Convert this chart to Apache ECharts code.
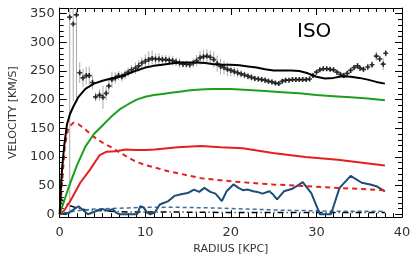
<!DOCTYPE html>
<html>
<head>
<meta charset="utf-8">
<script src="https://cdn.jsdelivr.net/npm/echarts@6/dist/echarts.min.js"></script>
<style>html,body{margin:0;padding:0;background:#fff}#c{width:415px;height:260px}</style>
</head>
<body>
<div id="c"></div>
<script>
// Observed rotation curve points: radius (kpc), velocity (km/s), error (km/s)
const obsR = [1.17,1.58,1.96,2.34,2.72,3.10,3.45,3.83,4.20,4.66,5.05,5.43,5.74,6.10,6.50,6.88,7.26,7.63,8.00,8.40,8.86,9.23,9.60,
  10.0,10.4,10.8,11.2,11.6,12.0,12.4,12.8,13.2,13.6,14.0,14.4,14.8,15.2,15.6,16.0,16.4,16.8,17.2,17.6,18.0,18.4,18.8,19.2,19.6,
  20.0,20.4,20.8,21.2,21.6,22.0,22.4,22.8,23.2,23.6,24.0,24.4,24.8,25.2,25.6,26.0,26.4,26.8,27.2,27.6,28.0,28.4,28.8,29.2,29.6,
  30.0,30.4,30.8,31.2,31.6,32.0,32.4,32.8,33.2,33.6,34.0,34.4,34.8,35.1,35.5,36.0,36.5,37.0,37.4,37.8,38.1];
const obsV = [344,332,348,247,238,242,242,230,205,208,204,211,224,235,238,242,240,244,248,252,255,259,264,
  267,270,272,271,271,270,270,269,268,266,264,262,262,261,264,268,273,275,276,274,270,263,258,256,253,
  251,249,247,245,243,241,239,237,236,235,234,232,231,229,228,232,234,234,235,235,235,235,235,236,242,
  248,252,254,254,253,252,248,244,242,246,251,256,259,255,253,257,261,276,271,262,281];
const obsErr = [345,135,150,18,16,15,16,12,8,10,20,12,12,14,10,8,8,8,8,8,10,10,10,
  12,14,14,10,10,8,8,8,8,8,8,6,6,6,8,10,12,12,12,12,14,14,14,12,12,
  10,8,8,6,6,6,6,5,5,5,5,5,5,4,4,4,4,4,4,4,4,4,4,4,4,
  4,4,4,4,4,4,4,5,5,5,5,5,5,5,5,6,6,8,6,10,6];

// Model curves [radius, velocity]
const totalCurve = [[0,0],[0.15,50],[0.3,85],[0.55,123],[0.85,157],[1.2,175],[1.6,188],[2.2,205],[3,219],[4,228],[5,233],[6,237],[7,240],[8,245],[9,251],[10,256],[11,259],[12,261],[13,263],[14,265],[15,265],[16,265],[17,264],[18,262],[19,261],[20,261],[21,260],[22,258],[23,256],[24,253],[25,251],[26,251],[27,251],[28,250],[29,246],[30,240],[31,237],[32,238],[33,241],[34,240],[35,238],[36,235],[37,231],[38,228]];
const haloCurve = [[0,0],[1,45],[2,85],[3,118],[4,140],[5,155],[6,170],[7,183],[8,192],[9,200],[10,205],[11,208],[12,210],[13,212],[14,214],[15,216],[16,217.5],[17,218],[18,218.5],[20,218.5],[22,217],[24,215],[26,213],[28,211],[30,208],[32,206],[34,204],[36,202],[38,199]];
const stellarCurve = [[0,0],[0.5,6],[1.24,23],[2.4,55],[3.5,77],[4.66,103],[5.43,109],[6.57,110],[7.7,113],[8.86,112],[10,112],[11.1,113],[13.8,117],[16.5,119],[18.8,117],[21.4,115],[24.9,107],[28.7,100],[32.5,95],[38,85]];
const stellarDashCurve = [[0,0],[0.3,60],[0.6,120],[1,150],[1.6,160],[2.2,157],[3,148],[4,135],[5,125],[6,117],[7,108],[8,99],[8.86,92],[10,86],[12.7,75],[16.5,63],[20.3,57],[24.9,52],[28.7,49],[32.5,46],[38,42]];
const gasCurve = [[0,0],[1,2],[2.19,14],[3.3,0],[4.5,7],[5.05,9],[5.6,6],[6.2,9],[6.57,3],[6.95,0],[9.05,0],[9.43,14],[9.8,12],[10.2,3],[10.6,0],[11.1,3],[11.7,17],[12.7,23],[13.4,32],[14.2,35],[14.95,37],[15.7,43],[16.3,39],[16.9,46],[17.6,39],[18.2,36],[18.95,23],[19.5,40],[20.3,52],[20.9,46],[21.4,42],[22.0,43],[22.6,40],[23.1,39],[23.7,36],[24.5,40],[24.9,35],[25.4,26],[26.2,40],[27.1,44],[27.7,49],[28.4,56],[29.4,37],[30.4,0],[31.7,0],[32.7,46],[34.0,67],[35.3,55],[36.3,52],[37.0,49],[38.0,40]];
const gasDashCurve = [[0.5,2],[2,6],[4,9],[6,10],[8,11],[10,12],[14,12],[18,11],[22,9],[26,7],[30,6],[34,5],[38,5]];
const bulgeCurve = [[0,28],[1,16],[2,11],[3,8],[4,7],[6,5],[8,4],[12,4],[20,3],[30,3],[38,3]];

const xTicks = [0,10,20,30,40];
const yTicks = [0,50,100,150,200,250,300,350];
const labelText = 'ISO';

const obsData = obsR.map((r,i)=>[r,obsV[i],obsErr[i]]);
const FONT = 'DejaVu Sans';
const chart = echarts.init(document.getElementById('c'), null, {renderer:'canvas'});
const tickCommon = {inside:true, length:7, lineStyle:{color:'#000',width:1}};
const minorCommon = {show:true, length:4, lineStyle:{color:'#000',width:1}};

chart.setOption({
  animation:false,
  backgroundColor:'#fff',
  grid:{left:52, right:13, top:8, bottom:38},
  xAxis:[{
    type:'value', min:xTicks[0], max:xTicks[xTicks.length-1], interval:10,
    name:'RADIUS [KPC]', nameLocation:'middle', nameGap:23,
    nameTextStyle:{fontFamily:FONT, fontSize:11, color:'#333'},
    axisLine:{show:true, onZero:false, lineStyle:{color:'#000',width:1}},
    axisTick:tickCommon, minorTick:Object.assign({splitNumber:10},minorCommon),
    axisLabel:{fontFamily:FONT, fontSize:13, color:'#333', margin:9},
    splitLine:{show:false}
  },{
    type:'value', position:'top', min:0, max:40, interval:10,
    axisLine:{show:true, onZero:false, lineStyle:{color:'#000',width:1}},
    axisTick:tickCommon, minorTick:Object.assign({splitNumber:10},minorCommon),
    axisLabel:{show:false}, splitLine:{show:false}
  }],
  yAxis:[{
    type:'value', min:-5, max:360, splitNumber:7,
    name:'VELOCITY [KM/S]', nameLocation:'middle', nameGap:38,
    nameTextStyle:{fontFamily:FONT, fontSize:11, color:'#333'},
    axisLine:{show:true, onZero:false, lineStyle:{color:'#000',width:1}},
    axisTick:tickCommon, minorTick:Object.assign({splitNumber:5},minorCommon),
    axisLabel:{fontFamily:FONT, fontSize:13, color:'#333', margin:5, showMinLabel:false, showMaxLabel:false,
      formatter:v=> yTicks.indexOf(v)>=0 ? String(v) : ''},
    splitLine:{show:false}
  },{
    type:'value', position:'right', min:-5, max:360, splitNumber:7,
    axisLine:{show:true, onZero:false, lineStyle:{color:'#000',width:1}},
    axisTick:tickCommon, minorTick:Object.assign({splitNumber:5},minorCommon),
    axisLabel:{show:false}, splitLine:{show:false}
  }],
  graphic:[{type:'text', left:297, top:22, style:{text:labelText, font:'20px "DejaVu Sans"', fill:'#000'}}],
  series:[
    {type:'custom', clip:true, data:obsData, z:2,
      renderItem:function(params, api){
        const x=api.value(0), y=api.value(1), e=api.value(2);
        const p1=api.coord([x,y-e]), p2=api.coord([x,y+e]);
        return {type:'line', shape:{x1:p1[0],y1:p1[1],x2:p2[0],y2:p2[1]}, style:{stroke:'#a8a8a8', lineWidth:1}};
      }},
    {type:'line', data:bulgeCurve, showSymbol:false, symbol:'none', lineStyle:{color:'#000', width:1.5, type:[6,3,1,3]}, z:3},
    {type:'line', data:gasDashCurve, showSymbol:false, symbol:'none', lineStyle:{color:'#3d6f9e', width:1.5, type:[4,3]}, z:3},
    {type:'line', data:gasCurve, showSymbol:false, symbol:'none', lineStyle:{color:'#1c4d78', width:2}, z:4},
    {type:'line', data:stellarDashCurve, showSymbol:false, symbol:'none', lineStyle:{color:'#e3201b', width:2, type:[5,4]}, z:4},
    {type:'line', data:stellarCurve, showSymbol:false, symbol:'none', lineStyle:{color:'#e3201b', width:2}, z:4},
    {type:'line', data:haloCurve, showSymbol:false, symbol:'none', lineStyle:{color:'#1e9e1e', width:2}, z:4},
    {type:'scatter', data:obsData, symbol:'path://M2,0H4V2H6V4H4V6H2V4H0V2H2Z', symbolSize:5, itemStyle:{color:'#000'}, z:5},
    {type:'line', data:totalCurve, showSymbol:false, symbol:'none', lineStyle:{color:'#000', width:2}, z:6}
  ]
});
</script>
</body>
</html>
